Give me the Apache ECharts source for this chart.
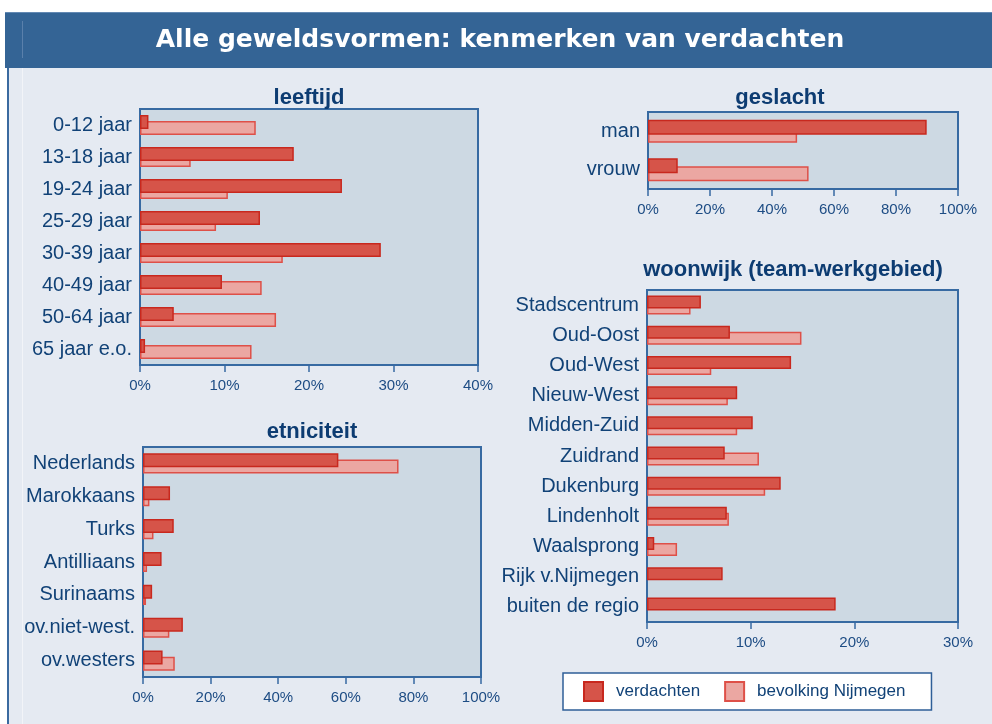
<!DOCTYPE html>
<html>
<head>
<meta charset="utf-8">
<title>Alle geweldsvormen: kenmerken van verdachten</title>
<script src="https://cdn.jsdelivr.net/npm/echarts@6/dist/echarts.min.js"></script>
<style>
  html, body { margin: 0; padding: 0; background: #fff; }
  #chart { width: 992px; height: 724px; }
</style>
</head>
<body>
<div id="chart"></div>
<script>
// leeftijd (%)
const leeftijdCats = ['0-12 jaar', '13-18 jaar', '19-24 jaar', '25-29 jaar', '30-39 jaar', '40-49 jaar', '50-64 jaar', '65 jaar e.o.']
const leeftijdVerdachten = [1.0, 18.2, 23.9, 14.2, 28.5, 9.7, 4.0, 0.6]
const leeftijdBevolking = [13.7, 6.0, 10.4, 9.0, 16.9, 14.4, 16.1, 13.2]

// geslacht (%)
const geslachtCats = ['man', 'vrouw']
const geslachtVerdachten = [89.9, 9.6]
const geslachtBevolking = [48.1, 51.8]

// etniciteit (%)
const etniciteitCats = ['Nederlands', 'Marokkaans', 'Turks', 'Antilliaans', 'Surinaams', 'ov.niet-west.', 'ov.westers']
const etniciteitVerdachten = [57.8, 8.0, 9.1, 5.5, 2.7, 11.8, 5.8]
const etniciteitBevolking = [75.6, 1.9, 3.1, 1.2, 0.9, 7.8, 9.4]

// woonwijk (%)
const woonwijkCats = ['Stadscentrum', 'Oud-Oost', 'Oud-West', 'Nieuw-West', 'Midden-Zuid', 'Zuidrand', 'Dukenburg', 'Lindenholt', 'Waalsprong', 'Rijk v.Nijmegen', 'buiten de regio']
const woonwijkVerdachten = [5.2, 8.0, 13.9, 8.7, 10.2, 7.5, 12.9, 7.7, 0.7, 7.3, 18.2]
const woonwijkBevolking = [4.2, 14.9, 6.2, 7.8, 8.7, 10.8, 11.4, 7.9, 2.9, null, null]

const seriesNames = ['verdachten', 'bevolking Nijmegen']

// panelen: data + plek op het canvas
const panels = [
  { title: 'leeftijd', cats: leeftijdCats, a: leeftijdVerdachten, b: leeftijdBevolking, max: 40, interval: 10,
    left: 140, top: 109, width: 338, height: 256, barWidth: 14, barGap: '-57%', tx: 309, ty: 98 },
  { title: 'geslacht', cats: geslachtCats, a: geslachtVerdachten, b: geslachtBevolking, max: 100, interval: 20,
    left: 648, top: 112, width: 310, height: 77, barWidth: 15, barGap: '-47%', tx: 780, ty: 98 },
  { title: 'etniciteit', cats: etniciteitCats, a: etniciteitVerdachten, b: etniciteitBevolking, max: 100, interval: 20,
    left: 143, top: 447, width: 338, height: 230, barWidth: 14, barGap: '-56%', tx: 312, ty: 432 },
  { title: 'woonwijk (team-werkgebied)', cats: woonwijkCats, a: woonwijkVerdachten, b: woonwijkBevolking, max: 30, interval: 10,
    left: 647, top: 290, width: 311, height: 332, barWidth: 13, barGap: '-54%', tx: 793, ty: 270 }
]

const blue = '#376aa2'
const textBlue = '#114277'
const font = 'Liberation Sans, Arial, sans-serif'

const darkStyle = { color: '#d65449', borderColor: '#c8281e', borderWidth: 1.5 }
const lightStyle = { color: '#eba7a2', borderColor: '#de5048', borderWidth: 1.5 }

const grids = []
const xAxes = []
const yAxes = []
const series = []
const titles = []

panels.forEach((p, i) => {
  grids.push({
    left: p.left, top: p.top, width: p.width, height: p.height,
    show: true, backgroundColor: '#cdd9e3', borderColor: blue, borderWidth: 2
  })
  xAxes.push({
    gridIndex: i, type: 'value', min: 0, max: p.max, interval: p.interval,
    axisLine: { show: true, lineStyle: { color: blue, width: 2 } },
    axisTick: { show: true, length: 7, lineStyle: { color: blue, width: 1.5 } },
    splitLine: { show: false },
    axisLabel: { formatter: '{value}%', color: '#1d4c84', fontSize: 15, fontFamily: font, margin: 13 }
  })
  yAxes.push({
    gridIndex: i, type: 'category', data: p.cats, inverse: true,
    axisLine: { show: true, lineStyle: { color: blue, width: 2 } },
    axisTick: { show: false },
    axisLabel: { color: textBlue, fontSize: 20, fontFamily: font, margin: 8 }
  })
  series.push({
    name: seriesNames[0], type: 'bar', xAxisIndex: i, yAxisIndex: i, data: p.a,
    barWidth: p.barWidth, barGap: p.barGap, z: 3, itemStyle: darkStyle, silent: true
  })
  series.push({
    name: seriesNames[1], type: 'bar', xAxisIndex: i, yAxisIndex: i, data: p.b,
    barWidth: p.barWidth, barGap: p.barGap, z: 2, itemStyle: lightStyle, silent: true
  })
  titles.push({
    type: 'text', x: p.tx, y: p.ty, z: 10,
    style: {
      text: p.title, fill: '#0d3c72', font: 'bold 22px ' + font,
      align: 'center', verticalAlign: 'middle', textAlign: 'center', textVerticalAlign: 'middle'
    }
  })
})

const chart = echarts.init(document.getElementById('chart'))
chart.setOption({
  animation: false,
  backgroundColor: '#ffffff',
  graphic: [
    // achtergrond van het paneel
    { type: 'rect', z: -10, shape: { x: 7, y: 68, width: 985, height: 656 }, style: { fill: '#e5eaf2' } },
    { type: 'rect', z: -9, shape: { x: 7, y: 68, width: 2, height: 656 }, style: { fill: '#3a6aa0' } },
    { type: 'rect', z: -9, shape: { x: 22, y: 68, width: 1, height: 656 }, style: { fill: '#f2f4f8' } },
    // titelbalk
    { type: 'rect', z: -9, shape: { x: 5, y: 12, width: 987, height: 56 }, style: { fill: '#346495' } },
    { type: 'rect', z: -8, shape: { x: 5, y: 12, width: 987, height: 1 }, style: { fill: '#6389b3' } },
    { type: 'rect', z: -8, shape: { x: 22, y: 21, width: 1, height: 37 }, style: { fill: '#5a80ab' } },
    {
      type: 'text', x: 500, y: 40, z: 10,
      style: {
        text: 'Alle geweldsvormen: kenmerken van verdachten', fill: '#ffffff',
        font: 'bold 25px DejaVu Sans, Verdana, sans-serif',
        align: 'center', verticalAlign: 'middle', textAlign: 'center', textVerticalAlign: 'middle'
      }
    },
    ...titles
  ],
  legend: {
    data: seriesNames,
    left: 563, top: 673,
    icon: 'rect',
    itemWidth: 19, itemHeight: 19, itemGap: 24,
    padding: [8, 26, 8, 20],
    backgroundColor: '#ffffff', borderColor: '#2f5f98', borderWidth: 1.5,
    textStyle: { color: textBlue, fontSize: 17, fontFamily: font, padding: [0, 0, 0, 8] },
    selectedMode: false
  },
  grid: grids,
  xAxis: xAxes,
  yAxis: yAxes,
  series: series
})
</script>
</body>
</html>
